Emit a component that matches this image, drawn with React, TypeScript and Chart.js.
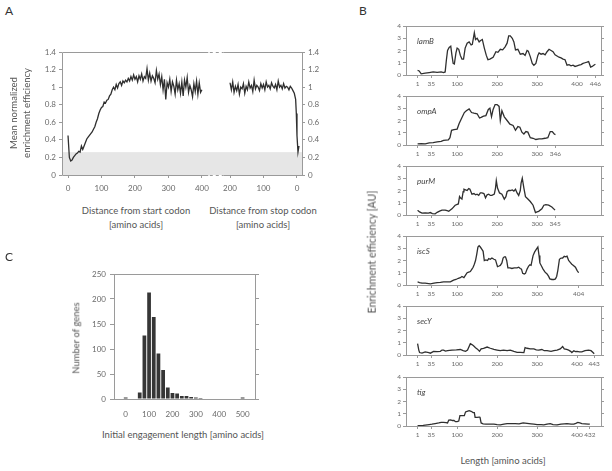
import React, { useEffect, useRef } from "react";
import { Chart, registerables } from "chart.js";

Chart.register(...registerables);

const FONT = "Lato, 'Open Sans', sans-serif";
const AXIS = "#9a9a9a";
const TICK_TXT = "#6a6a6a";
const TITLE_TXT = "#555555";
const LINE = "#2f2f2f";
const BAND = "#e6e6e6";

// ---------- Panel A ----------
const START_STEP = 4; // amino acids between start-codon samples
const startValues = [
  0.45, 0.20, 0.16, 0.17, 0.20, 0.22, 0.24, 0.25, 0.27, 0.26,
  0.33, 0.29, 0.33, 0.37, 0.41, 0.43, 0.45, 0.47, 0.49, 0.52,
  0.55, 0.60, 0.64, 0.70, 0.74, 0.77, 0.78, 0.83, 0.82, 0.85,
  0.86, 0.90, 0.92, 0.97, 1.00, 0.97, 1.03, 0.99, 1.04, 1.06,
  1.02, 1.07, 1.05, 1.08, 1.06, 1.10, 1.07, 1.12, 1.08, 1.14,
  1.09, 1.12, 1.06, 1.13, 1.09, 1.15, 1.07, 1.12, 1.10, 1.21,
  1.08, 1.16, 1.07, 1.13, 1.10, 1.05, 1.19, 1.09, 1.15, 1.03,
  1.12, 0.97, 1.09, 0.86, 1.05, 1.00, 1.09, 0.95, 1.06, 1.01,
  0.92, 1.08, 0.97, 1.04, 0.93, 1.06, 0.90, 1.08, 1.00, 1.11,
  0.94, 1.02, 0.97, 0.89, 1.04, 0.95, 1.07, 0.92, 1.05, 0.94,
  0.97,
];
const stopDistances = [
  200, 196, 192, 188, 184, 180, 176, 172, 168, 164, 160, 156, 152, 148, 144,
  140, 136, 132, 128, 124, 120, 116, 112, 108, 104, 100, 96, 92, 88, 84, 80,
  76, 72, 68, 64, 60, 56, 52, 48, 44, 40, 36, 32, 28, 24, 20, 16, 12, 8, 4,
  2, 0, -3, -6,
];
const stopValues = [
  1.05, 0.97, 1.06, 0.94, 1.01, 0.96, 1.03, 0.92, 1.00, 0.98,
  1.04, 0.93, 1.01, 0.97, 1.06, 0.99, 1.02, 0.95, 1.08, 0.98,
  1.02, 1.00, 0.96, 1.04, 0.99, 1.03, 0.97, 1.06, 1.00, 1.02,
  0.98, 1.05, 1.01, 0.99, 1.03, 0.97, 1.07, 1.00, 1.02, 0.98,
  1.04, 0.99, 1.01, 1.00, 0.97, 1.01, 0.99, 0.96, 0.93, 0.86,
  0.70, 0.45, 0.26, 0.33,
];
const startTicks = [0, 100, 200, 300, 400];
const stopTicks = [200, 100, 0];
const STOP_ORIGIN = 684; // axis coordinate of the stop codon
const A_X_MIN = -18;
const A_X_MAX = 699;
const BREAK_FROM = 419;
const BREAK_TO = 464;
const BAND_TOP = 0.26;
const A_Y_MAX = 1.4;
const A_Y_STEP = 0.2;

// ---------- Panel B ----------
const geneNames = ["lamB", "ompA", "purM", "iscS", "secY", "tig"];
const lamB: [number, number][] = [
  [1, 0.37], [5, 0.33], [10, 0.1], [20, 0.15], [30, 0.2], [40, 0.25], [50, 0.22],
  [60, 0.25], [66, 0.2], [70, 0.25], [73, 1.2], [76, 2.0], [80, 2.25], [84, 2.35],
  [87, 1.6], [90, 0.95], [93, 0.9], [97, 1.8], [100, 2.2], [104, 2.1], [108, 1.6],
  [112, 1.3], [116, 1.3], [120, 2.2], [125, 2.6], [130, 2.7], [135, 2.45], [138, 2.5],
  [143, 3.45], [146, 2.9], [150, 3.0], [155, 2.7], [158, 2.8], [163, 2.9], [168, 2.2],
  [173, 1.6], [177, 1.25], [182, 1.3], [190, 1.45], [197, 1.9], [202, 1.85], [208, 2.1],
  [214, 2.05], [220, 2.3], [225, 2.6], [229, 3.2], [233, 3.2], [238, 3.0], [242, 2.7],
  [246, 2.05], [252, 2.1], [258, 1.7], [265, 1.75], [270, 1.6], [275, 2.0], [278, 1.95],
  [283, 1.5], [288, 0.95], [292, 0.8], [297, 0.95], [302, 1.6], [305, 1.8], [310, 1.7],
  [315, 1.75], [320, 1.65], [325, 1.9], [330, 2.1], [335, 2.0], [340, 1.9], [345, 1.65],
  [350, 1.55], [355, 1.45], [360, 1.4], [365, 1.3], [370, 1.25], [375, 0.8], [380, 0.85],
  [385, 0.75], [390, 0.8], [395, 0.7], [400, 0.75], [405, 0.8], [410, 0.85], [415, 0.95],
  [420, 1.0], [425, 1.05], [429, 1.1], [434, 0.65], [438, 0.7], [442, 0.8], [446, 0.88],
];
const ompA: [number, number][] = [
  [1, 0.1], [10, 0.12], [20, 0.1], [30, 0.18], [40, 0.2], [50, 0.25], [60, 0.3],
  [66, 0.38], [72, 0.4], [78, 0.42], [82, 0.6], [86, 1.2], [92, 1.25], [100, 1.3],
  [105, 1.75], [110, 2.1], [118, 2.65], [123, 2.8], [130, 2.95], [136, 2.65], [142, 2.6],
  [150, 2.55], [156, 2.2], [160, 2.25], [166, 2.35], [172, 2.4], [178, 2.9], [182, 3.0],
  [186, 2.3], [190, 2.9], [195, 3.3], [200, 3.3], [205, 3.15], [208, 2.0], [212, 2.8],
  [218, 2.3], [225, 2.0], [232, 1.7], [240, 1.6], [246, 1.2], [252, 1.5], [257, 1.45],
  [262, 1.05], [267, 0.9], [272, 1.1], [277, 1.05], [283, 0.6], [290, 0.55], [297, 0.45],
  [305, 0.5], [312, 0.5], [320, 0.55], [327, 0.6], [333, 1.1], [338, 1.1], [343, 0.9],
  [346, 0.85],
];
const purM: [number, number][] = [
  [1, 0.38], [6, 0.25], [12, 0.15], [20, 0.18], [28, 0.15], [33, 0.2], [38, 0.12],
  [45, 0.1], [50, 0.22], [56, 0.32], [62, 0.4], [70, 0.4], [75, 0.35], [79, 0.3],
  [83, 0.4], [87, 0.5], [95, 0.8], [103, 0.9], [106, 1.5], [108, 1.4], [112, 1.3],
  [115, 1.9], [117, 2.1], [121, 2.05], [125, 2.0], [129, 2.15], [132, 2.1], [137, 1.7],
  [142, 1.75], [146, 1.65], [150, 1.7], [154, 1.6], [158, 1.8], [162, 1.8], [167, 1.75],
  [171, 1.4], [175, 1.65], [179, 1.7], [183, 1.6], [187, 1.6], [193, 1.7], [196, 2.2],
  [198, 2.8], [201, 2.2], [206, 1.8], [212, 1.7], [218, 1.3], [222, 1.5], [225, 1.9],
  [229, 2.0], [233, 2.0], [238, 2.05], [242, 1.95], [246, 2.1], [250, 1.8], [254, 1.6],
  [258, 2.0], [260, 2.6], [263, 3.0], [267, 2.2], [271, 1.5], [277, 1.3], [283, 1.1],
  [290, 0.8], [296, 0.2], [300, 0.25], [304, 0.3], [312, 0.5], [317, 0.8], [322, 0.85],
  [329, 0.8], [337, 0.65], [345, 0.4],
];
const iscS: [number, number][] = [
  [1, 0.25], [6, 0.2], [12, 0.15], [20, 0.15], [33, 0.1], [42, 0.15], [50, 0.2],
  [58, 0.22], [66, 0.25], [75, 0.25], [83, 0.25], [91, 0.4], [97, 0.45], [103, 0.55],
  [108, 0.6], [112, 0.7], [117, 0.6], [121, 0.8], [125, 1.0], [129, 1.05], [133, 1.1],
  [137, 1.3], [140, 1.45], [143, 1.7], [146, 2.0], [149, 2.5], [152, 3.1], [155, 3.2],
  [158, 3.1], [162, 2.9], [165, 2.75], [168, 2.0], [172, 2.05], [176, 2.0], [179, 2.15],
  [183, 2.1], [187, 2.2], [192, 2.1], [196, 2.05], [201, 1.5], [205, 1.55], [208, 1.6],
  [212, 1.8], [215, 2.2], [218, 2.3], [221, 2.3], [224, 2.0], [227, 1.4], [232, 1.4],
  [237, 1.35], [243, 1.4], [250, 1.4], [254, 1.45], [258, 1.35], [261, 1.3], [264, 0.95],
  [268, 0.9], [271, 0.95], [275, 1.3], [279, 1.55], [282, 1.65], [285, 1.6], [288, 2.1],
  [290, 2.4], [294, 2.7], [298, 2.9], [302, 3.1], [305, 2.4], [307, 1.8], [311, 1.55],
  [315, 1.3], [320, 1.05], [325, 0.9], [329, 0.7], [332, 0.5], [337, 0.45], [342, 0.45],
  [346, 0.5], [349, 0.7], [352, 1.2], [356, 2.1], [360, 2.2], [364, 2.2], [368, 2.35],
  [371, 2.3], [375, 2.35], [379, 2.0], [383, 1.85], [387, 1.7], [391, 1.6], [396, 1.45],
  [400, 1.2], [404, 1.0],
];
const secY: [number, number][] = [
  [1, 0.93], [4, 0.4], [6, 0.2], [12, 0.15], [20, 0.25], [29, 0.2], [33, 0.15],
  [41, 0.3], [50, 0.28], [58, 0.3], [62, 0.4], [66, 0.4], [71, 0.32], [76, 0.35],
  [87, 0.4], [98, 0.42], [108, 0.45], [115, 0.35], [121, 0.3], [126, 0.4], [133, 0.92],
  [137, 0.85], [141, 0.75], [146, 0.6], [150, 0.5], [156, 0.3], [160, 0.5], [166, 0.55],
  [175, 0.65], [183, 0.55], [192, 0.45], [200, 0.4], [208, 0.35], [216, 0.4], [225, 0.35],
  [233, 0.4], [242, 0.3], [250, 0.22], [258, 0.22], [267, 0.2], [270, 0.6], [275, 0.55],
  [283, 0.5], [292, 0.5], [298, 0.42], [304, 0.4], [312, 0.45], [318, 0.35], [325, 0.35],
  [335, 0.3], [342, 0.35], [350, 0.4], [358, 0.5], [364, 0.7], [368, 0.5], [374, 0.45],
  [379, 0.4], [384, 0.3], [387, 0.2], [392, 0.35], [396, 0.28], [400, 0.3], [406, 0.25],
  [412, 0.25], [420, 0.35], [429, 0.4], [435, 0.35], [440, 0.2], [443, 0.1],
];
const tig: [number, number][] = [
  [1, 0.02], [15, 0.05], [25, 0.1], [30, 0.12], [37, 0.15], [45, 0.2], [54, 0.25],
  [60, 0.3], [66, 0.3], [72, 0.28], [76, 0.25], [79, 0.48], [84, 0.5], [88, 0.45],
  [92, 0.45], [96, 0.35], [100, 0.35], [104, 0.4], [107, 0.85], [113, 0.85], [118, 0.85],
  [121, 1.15], [125, 1.2], [130, 1.25], [135, 1.2], [140, 1.1], [143, 1.1], [145, 0.7],
  [150, 0.7], [155, 0.72], [157, 0.75], [160, 0.25], [165, 0.18], [172, 0.15], [182, 0.15],
  [192, 0.15], [200, 0.12], [208, 0.1], [217, 0.15], [225, 0.2], [235, 0.2], [245, 0.2],
  [255, 0.18], [265, 0.25], [275, 0.22], [285, 0.18], [292, 0.15], [300, 0.12], [310, 0.12],
  [317, 0.1], [325, 0.15], [333, 0.2], [340, 0.12], [350, 0.1], [360, 0.15], [368, 0.18],
  [375, 0.2], [385, 0.15], [392, 0.15], [397, 0.22], [402, 0.3], [407, 0.25], [412, 0.2],
  [420, 0.18], [428, 0.15], [432, 0.15],
];
const geneTraces = [lamB, ompA, purM, iscS, secY, tig];
const geneTicks = [
  [1, 35, 100, 200, 300, 400, 446],
  [1, 35, 100, 200, 300, 346],
  [1, 35, 100, 200, 300, 345],
  [1, 35, 100, 200, 300, 404],
  [1, 35, 100, 200, 300, 400, 443],
  [1, 35, 100, 200, 300, 400, 432],
];
const B_X_MIN = -28;
const B_X_MAX = 460;
const B_Y_MAX = 4;

// ---------- Panel C ----------
const binCenters = [
  0, 20, 40, 60, 80, 100, 120, 140, 160, 180, 200, 220, 240, 260, 280, 300, 320,
  340, 360, 380, 400, 420, 440, 460, 480, 500,
];
const geneCounts = [
  3, 0, 1, 13, 127, 213, 164, 91, 58, 23, 12, 11, 6, 6, 4, 3, 2, 1, 1, 1, 1, 1,
  0, 0, 1, 3,
];
const cTicks = [0, 100, 200, 300, 400, 500];
const C_X_MIN = -50;
const C_X_MAX = 553;
const C_Y_MAX = 250;
const C_Y_STEP = 50;

// ---------- helpers ----------
const tickFontA = { family: FONT, size: 8 };
const tickFontB = { family: FONT, size: 6.5 };

function al(v: number) {
  return Math.round(v) + 0.5;
}

function boxPlugin() {
  return {
    id: "box",
    afterDatasetsDraw(chart: any) {
      const { ctx, chartArea } = chart;
      const l = al(chartArea.left), r = al(chartArea.right);
      const t = al(chartArea.top), b = al(chartArea.bottom);
      ctx.save();
      ctx.strokeStyle = AXIS;
      ctx.lineWidth = 1;
      ctx.strokeRect(l, t, r - l, b - t);
      ctx.restore();
    },
  };
}

function brokenFramePlugin() {
  return {
    id: "brokenFrame",
    beforeDatasetsDraw(chart: any) {
      const { ctx, chartArea } = chart;
      const yTop = chart.scales.y.getPixelForValue(BAND_TOP);
      ctx.save();
      ctx.fillStyle = BAND;
      ctx.fillRect(chartArea.left, yTop, chartArea.right - chartArea.left, chartArea.bottom - yTop);
      ctx.restore();
    },
    afterDatasetsDraw(chart: any) {
      const { ctx, chartArea } = chart;
      const xs = chart.scales.x;
      const l = al(chartArea.left), r = al(chartArea.right);
      const t = al(chartArea.top), b = al(chartArea.bottom);
      const b1 = xs.getPixelForValue(BREAK_FROM);
      const b2 = xs.getPixelForValue(BREAK_TO);
      ctx.save();
      ctx.strokeStyle = AXIS;
      ctx.lineWidth = 1;
      const seg = (x1: number, y1: number, x2: number, y2: number) => {
        ctx.beginPath();
        ctx.moveTo(x1, y1);
        ctx.lineTo(x2, y2);
        ctx.stroke();
      };
      seg(l, t, l, b);
      seg(r, t, r, b);
      for (const y of [t, b]) {
        ctx.setLineDash([]);
        seg(l, y, b1, y);
        seg(b2, y, r, y);
        ctx.setLineDash([3, 3]);
        seg(b1 + 1.5, y, b2, y);
      }
      ctx.restore();
    },
  };
}

const baseOptions = {
  animation: false,
  responsive: false,
  maintainAspectRatio: false,
  devicePixelRatio: 1,
  plugins: { legend: { display: false }, tooltip: { enabled: false }, title: { display: false } },
};

function configA() {
  return {
    type: "line",
    data: {
      datasets: [
        {
          data: startValues.map((v, i) => ({ x: i * START_STEP, y: v })),
          borderColor: LINE,
          borderWidth: 1.3,
          pointRadius: 0,
          tension: 0,
        },
        {
          data: stopDistances.map((d, i) => ({ x: STOP_ORIGIN - d, y: stopValues[i] })),
          borderColor: LINE,
          borderWidth: 1.3,
          pointRadius: 0,
          tension: 0,
        },
      ],
    },
    options: {
      ...baseOptions,
      layout: { padding: { top: 52, left: 0, right: 0, bottom: 0 } },
      scales: {
        x: {
          type: "linear",
          min: A_X_MIN,
          max: A_X_MAX,
          afterBuildTicks: (s: any) => {
            s.ticks = [...startTicks, ...stopTicks.map((d) => STOP_ORIGIN - d)].map((v) => ({ value: v }));
          },
          afterFit: (s: any) => {
            s.height = 25;
          },
          ticks: {
            autoSkip: false,
            maxRotation: 0,
            font: tickFontA,
            color: TICK_TXT,
            padding: 6,
            callback: (v: number) => (v <= 400 ? String(v) : String(STOP_ORIGIN - v)),
          },
          grid: { drawOnChartArea: false, tickLength: 3, color: AXIS },
          border: { display: false },
        },
        y: {
          position: "left",
          min: 0,
          max: A_Y_MAX,
          afterFit: (s: any) => {
            s.width = 62;
          },
          ticks: {
            stepSize: A_Y_STEP,
            font: tickFontA,
            color: TICK_TXT,
            padding: 3,
            callback: (v: number) => String(Math.round(v * 10) / 10),
          },
          grid: { drawOnChartArea: false, tickLength: 3, color: AXIS },
          border: { display: false },
        },
        y2: {
          position: "right",
          min: 0,
          max: A_Y_MAX,
          afterFit: (s: any) => {
            s.width = 28;
          },
          ticks: {
            stepSize: A_Y_STEP,
            font: tickFontA,
            color: TICK_TXT,
            padding: 3,
            callback: (v: number) => String(Math.round(v * 10) / 10),
          },
          grid: { drawOnChartArea: false, tickLength: 3, color: AXIS },
          border: { display: false },
        },
      },
    },
    plugins: [brokenFramePlugin()],
  };
}

function configB(i: number) {
  return {
    type: "line",
    data: {
      datasets: [
        {
          data: geneTraces[i].map(([x, y]) => ({ x, y })),
          borderColor: LINE,
          borderWidth: 1.3,
          pointRadius: 0,
          tension: 0,
        },
      ],
    },
    options: {
      ...baseOptions,
      layout: { padding: { top: 6, left: 0, right: 0, bottom: 0 } },
      scales: {
        x: {
          type: "linear",
          min: B_X_MIN,
          max: B_X_MAX,
          afterBuildTicks: (s: any) => {
            s.ticks = geneTicks[i].map((v) => ({ value: v }));
          },
          afterFit: (s: any) => {
            s.height = 15;
          },
          ticks: { autoSkip: false, maxRotation: 0, font: tickFontB, color: TICK_TXT, padding: 2 },
          grid: { drawOnChartArea: false, tickLength: 3, color: AXIS },
          border: { display: false },
        },
        y: {
          position: "left",
          min: 0,
          max: B_Y_MAX,
          afterFit: (s: any) => {
            s.width = 30;
          },
          ticks: { stepSize: 1, font: tickFontB, color: TICK_TXT, padding: 2 },
          grid: { drawOnChartArea: false, tickLength: 3, color: AXIS },
          border: { display: false },
        },
        y2: {
          position: "right",
          min: 0,
          max: B_Y_MAX,
          afterFit: (s: any) => {
            s.width = 11;
          },
          ticks: { stepSize: 1, display: false },
          grid: { drawOnChartArea: false, tickLength: 3, color: AXIS },
          border: { display: false },
        },
      },
    },
    plugins: [boxPlugin()],
  };
}

function configC() {
  return {
    type: "bar",
    data: {
      datasets: [
        {
          data: binCenters.map((b, i) => ({ x: b, y: geneCounts[i] })),
          backgroundColor: "#363636",
          borderWidth: 0,
          barPercentage: 0.8,
          categoryPercentage: 1,
        },
      ],
    },
    options: {
      ...baseOptions,
      layout: { padding: { top: 10, left: 0, right: 0, bottom: 0 } },
      scales: {
        x: {
          type: "linear",
          min: C_X_MIN,
          max: C_X_MAX,
          offset: false,
          afterBuildTicks: (s: any) => {
            s.ticks = cTicks.map((v) => ({ value: v }));
          },
          afterFit: (s: any) => {
            s.height = 27;
          },
          ticks: { autoSkip: false, maxRotation: 0, font: tickFontA, color: TICK_TXT, padding: 11 },
          grid: { drawOnChartArea: false, drawTicks: false, offset: false, color: AXIS },
          border: { display: false },
        },
        y: {
          position: "left",
          min: 0,
          max: C_Y_MAX,
          afterFit: (s: any) => {
            s.width = 58;
          },
          ticks: { stepSize: C_Y_STEP, font: tickFontA, color: TICK_TXT, padding: 4 },
          grid: { drawOnChartArea: false, tickLength: 4, color: AXIS },
          border: { display: false },
        },
        y2: {
          position: "right",
          min: 0,
          max: C_Y_MAX,
          afterFit: (s: any) => {
            s.width = 15;
          },
          ticks: { stepSize: C_Y_STEP, display: false },
          grid: { drawOnChartArea: false, tickLength: 4, color: AXIS },
          border: { display: false },
        },
      },
    },
    plugins: [boxPlugin()],
  };
}

function ChartCanvas(props: { left: number; top: number; width: number; height: number; make: () => any }) {
  const ref = useRef<HTMLCanvasElement | null>(null);
  useEffect(() => {
    if (!ref.current) return;
    const chart = new Chart(ref.current, props.make());
    return () => chart.destroy();
  }, []);
  return (
    <canvas
      ref={ref}
      width={props.width}
      height={props.height}
      style={{ position: "absolute", left: props.left, top: props.top, width: props.width, height: props.height }}
    />
  );
}

function Text(props: {
  x: number;
  y: number;
  children: React.ReactNode;
  size?: number;
  rotate?: boolean;
  italic?: boolean;
  color?: string;
  left?: boolean;
  lineHeight?: number;
}) {
  const { x, y, size = 9.5, rotate = false, italic = false, color = TITLE_TXT, left = false, lineHeight } = props;
  const tx = left ? "0" : "-50%";
  return (
    <div
      style={{
        position: "absolute",
        left: x,
        top: y,
        transform: `translate(${tx}, -50%)${rotate ? " rotate(-90deg)" : ""}`,
        fontFamily: FONT,
        fontSize: size,
        fontStyle: italic ? "italic" : "normal",
        color,
        whiteSpace: "nowrap",
        textAlign: "center",
        lineHeight: lineHeight ? `${lineHeight}px` : "1.2",
      }}
    >
      {props.children}
    </div>
  );
}

const B_TOPS = [26, 96, 166, 236, 306, 377];

export default function App() {
  return (
    <div
      style={{
        position: "absolute",
        left: 0,
        top: 0,
        width: 612,
        height: 471,
        background: "#ffffff",
        overflow: "hidden",
      }}
    >
      {/* Panel A */}
      <Text x={5} y={11} size={12} color="#333" left>
        A
      </Text>
      <ChartCanvas left={0} top={0} width={330} height={200} make={configA} />
      <Text x={20} y={113} rotate lineHeight={13.4}>
        Mean normalized
        <br />
        enrichment efficiency
      </Text>
      <Text x={136} y={211}>Distance from start codon</Text>
      <Text x={136} y={225}>[amino acids]</Text>
      <Text x={263} y={211}>Distance from stop codon</Text>
      <Text x={263} y={225}>[amino acids]</Text>

      {/* Panel B */}
      <Text x={359} y={11} size={12} color="#333" left>
        B
      </Text>
      {geneNames.map((g, i) => (
        <ChartCanvas key={g} left={376} top={B_TOPS[i] - 6} width={236} height={70} make={() => configB(i)} />
      ))}
      {geneNames.map((g, i) => (
        <Text key={g + "-label"} x={417} y={B_TOPS[i] + 16} size={8} italic left color="#444">
          {g}
        </Text>
      ))}
      <Text x={372} y={252} rotate size={10.5}>
        Enrichment efficiency [AU]
      </Text>
      <Text x={503} y={461}>Length [amino acids]</Text>

      {/* Panel C */}
      <Text x={5} y={257} size={12} color="#333" left>
        C
      </Text>
      <ChartCanvas left={56} top={264} width={214} height={162} make={configC} />
      <Text x={76} y={338} rotate>
        Number of genes
      </Text>
      <Text x={183} y={435}>Initial engagement length [amino acids]</Text>
    </div>
  );
}
